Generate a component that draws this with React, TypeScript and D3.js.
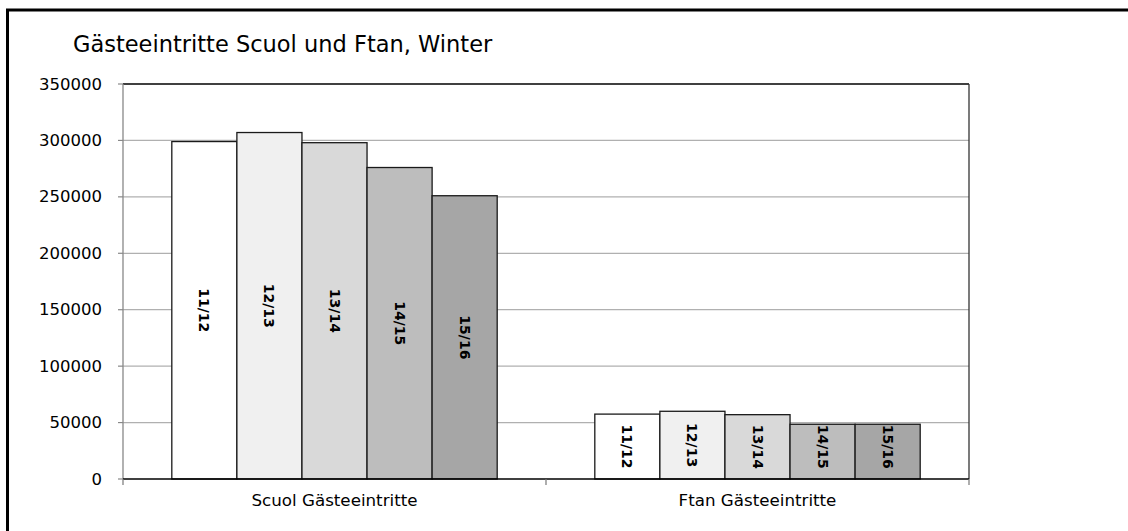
import React from "react";
import * as d3 from "d3";

const categories = ["Scuol Gästeeintritte", "Ftan Gästeeintritte"];
const seasons = ["11/12", "12/13", "13/14", "14/15", "15/16"];
const scuolValues = [299000, 307000, 298000, 276000, 251000];
const ftanValues = [57500, 60000, 57000, 48500, 48500];
const seasonColors = ["#ffffff", "#f0f0f0", "#d9d9d9", "#bdbdbd", "#a6a6a6"];
const yTicks = [0, 50000, 100000, 150000, 200000, 250000, 300000, 350000];
const title = "Gästeeintritte Scuol und Ftan, Winter";

const W = 1128;
const H = 531;
const left = 123;
const right = 969;
const top = 84;
const bottom = 479;
const FONT = "'DejaVu Sans', sans-serif";
const LABEL_LEN = 43;

export default function App() {
  const series = [scuolValues, ftanValues];
  const x0 = d3.scaleBand<string>().domain(categories).range([left, right]).paddingInner(0).paddingOuter(0);
  const innerPad = (x0.bandwidth() - x0.bandwidth() / 1.3) / 2;
  const x1 = d3
    .scaleBand<string>()
    .domain(seasons)
    .range([innerPad, x0.bandwidth() - innerPad])
    .padding(0);
  const y = d3.scaleLinear().domain([0, 350000]).range([bottom, top]);

  return (
    <div style={{ position: "absolute", left: 0, top: 0 }}>
      <svg width={W} height={H} style={{ display: "block", background: "#fff" }}>
        <rect x={7.5} y={10} width={1200} height={600} fill="#fff" stroke="#000" strokeWidth={3} />
        <text x={73} y={52} fontFamily={FONT} fontSize={22.5} fill="#000">
          {title}
        </text>
        {/* gridlines */}
        {yTicks
          .filter((t) => t > 0 && t < 350000)
          .map((t) => (
            <line key={"g" + t} x1={left} x2={right} y1={y(t)} y2={y(t)} stroke="#b0b0b0" strokeWidth={1.3} />
          ))}
        {/* plot frame */}
        <line x1={left} x2={right} y1={top} y2={top} stroke="#000" strokeWidth={1.5} />
        <line x1={right} x2={right} y1={top} y2={bottom} stroke="#333" strokeWidth={1.3} />
        <line x1={left} x2={left} y1={top} y2={bottom} stroke="#888" strokeWidth={1.3} />
        {/* bars */}
        {categories.map((c, ci) =>
          seasons.map((s, si) => {
            const v = series[ci][si];
            const bx = (x0(c) as number) + (x1(s) as number);
            const bw = x1.bandwidth();
            const by = y(v);
            const bh = y(0) - y(v);
            const cy = bh < LABEL_LEN + 12 ? by + LABEL_LEN / 2 + 1 : by + bh / 2;
            const cx = bx + bw / 2;
            return (
              <g key={c + s}>
                <rect x={bx} y={by} width={bw} height={bh} fill={seasonColors[si]} stroke="#1a1a1a" strokeWidth={1.3} />
                <text
                  transform={`translate(${cx},${cy}) rotate(90)`}
                  textAnchor="middle"
                  dominantBaseline="central"
                  fontFamily={FONT}
                  fontWeight="bold"
                  fontSize={14}
                  fill="#000"
                >
                  {s}
                </text>
              </g>
            );
          })
        )}
        {/* x axis */}
        <line x1={left} x2={right} y1={bottom} y2={bottom} stroke="#000" strokeWidth={1.5} />
        {[left, ...categories.map((c) => (x0(c) as number) + x0.bandwidth())].map((tx, i) => (
          <line key={"xt" + i} x1={tx} x2={tx} y1={bottom} y2={bottom + 6} stroke="#777" strokeWidth={1.2} />
        ))}
        {categories.map((c) => (
          <text
            key={"xl" + c}
            x={(x0(c) as number) + x0.bandwidth() / 2}
            y={500}
            textAnchor="middle"
            dominantBaseline="central"
            fontFamily={FONT}
            fontSize={16.7}
            fill="#000"
          >
            {c}
          </text>
        ))}
        {/* y axis ticks */}
        {yTicks.map((t) => (
          <g key={"yt" + t}>
            <line x1={left - 5} x2={left} y1={y(t)} y2={y(t)} stroke="#888" strokeWidth={1.2} />
            <text
              x={102}
              y={y(t)}
              textAnchor="end"
              dominantBaseline="central"
              fontFamily={FONT}
              fontSize={16.5}
              fill="#000"
            >
              {t}
            </text>
          </g>
        ))}
      </svg>
    </div>
  );
}
